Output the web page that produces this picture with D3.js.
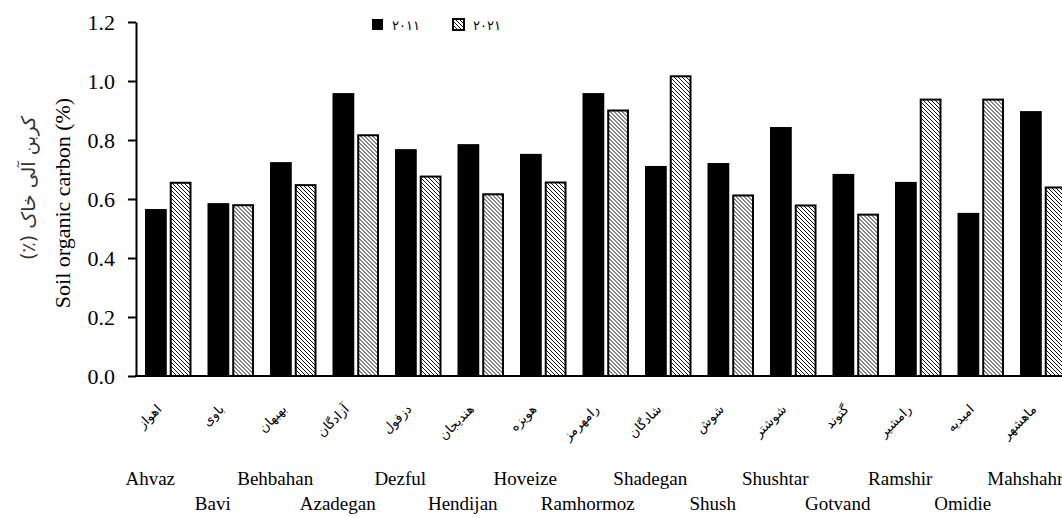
<!DOCTYPE html>
<html>
<head>
<meta charset="utf-8">
<script src="https://cdn.jsdelivr.net/npm/d3@7"></script>
<style>
  html, body { margin: 0; padding: 0; background: #fff; }
  svg { display: block; }
</style>
</head>
<body>
<script>
// Soil organic carbon (%) by county, 2011 vs 2021
const countiesEn = ["Ahvaz", "Bavi", "Behbahan", "Azadegan", "Dezful", "Hendijan", "Hoveize",
  "Ramhormoz", "Shadegan", "Shush", "Shushtar", "Gotvand", "Ramshir", "Omidie", "Mahshahr"];
const countiesFa = ["اهواز", "باوی", "بهبهان", "آزادگان", "دزفول", "هندیجان", "هویزه",
  "رامهرمز", "شادگان", "شوش", "شوشتر", "گتوند", "رامشیر", "امیدیه", "ماهشهر"];
const soc2011 = [0.566, 0.586, 0.725, 0.959, 0.769, 0.786, 0.753, 0.959, 0.712, 0.722, 0.844, 0.685, 0.658, 0.553, 0.898];
const soc2021 = [0.655, 0.579, 0.647, 0.816, 0.676, 0.616, 0.656, 0.900, 1.016, 0.612, 0.578, 0.547, 0.937, 0.937, 0.639];
const seriesKeys = ["2011", "2021"];
const seriesLabels = ["۲۰۱۱", "۲۰۲۱"];
const yTicks = [0, 0.2, 0.4, 0.6, 0.8, 1.0, 1.2];
const yTitleEn = "Soil organic carbon (%)";
const yTitleFa = "کربن آلی خاک (٪)";

const W = 1062, H = 518;
const serif = "'Liberation Serif', 'Times New Roman', serif";
const arabic = "'DejaVu Sans', sans-serif";

const svg = d3.select("body").append("svg")
  .attr("width", W).attr("height", H)
  .style("background", "#fff");

// diagonal hatch for the 2021 series
const defs = svg.append("defs");
const pat = defs.append("pattern")
  .attr("id", "hatch")
  .attr("patternUnits", "userSpaceOnUse")
  .attr("width", 4).attr("height", 4);
pat.append("rect").attr("width", 4).attr("height", 4).attr("fill", "#fff");
pat.append("path")
  .attr("d", "M-1,-1 L5,5 M3,-1 L5,1 M-1,3 L1,5")
  .attr("stroke", "#111").attr("stroke-width", 1);

const x = d3.scaleBand().domain(countiesEn).range([137, 137 + 62.5 * countiesEn.length]).padding(0);
const xs = d3.scaleBand().domain(seriesKeys).range([8, 54.5]).paddingInner(0.12);
const y = d3.scaleLinear().domain([0, 1.2]).range([376, 22]);

const rows = countiesEn.map((c, i) => ({ c, fa: countiesFa[i], v: [soc2011[i], soc2021[i]] }));

// bars
const groups = svg.append("g").selectAll("g").data(rows).join("g")
  .attr("transform", d => `translate(${x(d.c)},0)`);

groups.append("rect")
  .attr("x", xs("2011"))
  .attr("y", d => y(d.v[0]))
  .attr("width", xs.bandwidth())
  .attr("height", d => y(0) - y(d.v[0]))
  .attr("fill", "#000");

groups.append("rect")
  .attr("x", xs("2021") + 1)
  .attr("y", d => y(d.v[1]))
  .attr("width", xs.bandwidth() - 2)
  .attr("height", d => y(0) - y(d.v[1]))
  .attr("fill", "url(#hatch)")
  .attr("stroke", "#000")
  .attr("stroke-width", 2);

// y axis
const yAxis = svg.append("g")
  .attr("transform", "translate(136,0)")
  .call(d3.axisLeft(y).tickValues(yTicks).tickFormat(d3.format(".1f"))
    .tickSize(8).tickSizeOuter(0).tickPadding(13));
yAxis.select(".domain").attr("stroke", "#000").attr("stroke-width", 2);
yAxis.selectAll(".tick line").attr("stroke", "#000").attr("stroke-width", 2);
yAxis.selectAll(".tick text")
  .attr("fill", "#000")
  .style("font-family", serif).style("font-size", "22px");

// x axis baseline
svg.append("line")
  .attr("x1", 135).attr("x2", W)
  .attr("y1", y(0)).attr("y2", y(0))
  .attr("stroke", "#000").attr("stroke-width", 2);

// Persian category names, slanted
svg.append("g").selectAll("text").data(rows).join("text")
  .attr("transform", d => `translate(${x(d.c) + x.bandwidth() / 2 - 6},410) rotate(-45)`)
  .attr("text-anchor", "end")
  .style("font-family", arabic).style("font-size", "13px")
  .attr("fill", "#000")
  .text(d => d.fa);

// English category names, staggered on two rows
svg.append("g").selectAll("text").data(rows).join("text")
  .attr("x", d => x(d.c) + x.bandwidth() / 2 - 18)
  .attr("y", (d, i) => i % 2 === 0 ? 485 : 510)
  .attr("text-anchor", "middle")
  .style("font-family", serif).style("font-size", "19px")
  .attr("fill", "#000")
  .text(d => d.c);

// y titles
svg.append("text")
  .attr("transform", "translate(70,203) rotate(-90)")
  .attr("text-anchor", "middle")
  .style("font-family", serif).style("font-size", "22px")
  .attr("fill", "#000")
  .text(yTitleEn);

svg.append("text")
  .attr("transform", "translate(35,188) rotate(-90)")
  .attr("text-anchor", "middle")
  .attr("direction", "rtl")
  .style("unicode-bidi", "embed")
  .style("font-family", arabic).style("font-size", "19px")
  .attr("fill", "#333")
  .text(yTitleFa);

// legend
const legend = svg.append("g");
const legendX = [372, 453];
seriesKeys.forEach((k, i) => {
  legend.append("rect")
    .attr("x", legendX[i]).attr("y", 19)
    .attr("width", 11).attr("height", 11)
    .attr("fill", i === 0 ? "#000" : "url(#hatch)")
    .attr("stroke", "#000").attr("stroke-width", i === 0 ? 0 : 2);
  legend.append("text")
    .attr("x", legendX[i] + 20).attr("y", 30)
    .style("font-family", arabic).style("font-size", "13px")
    .attr("fill", "#000")
    .text(seriesLabels[i]);
});
</script>
</body>
</html>
